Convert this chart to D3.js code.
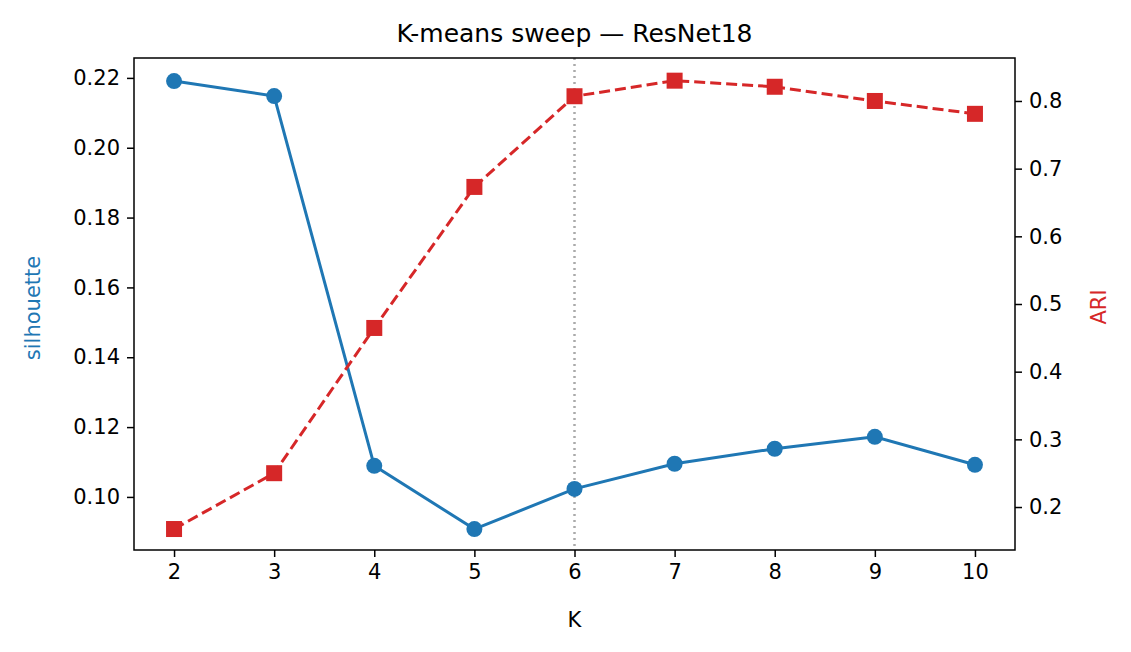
<!DOCTYPE html>
<html><head><meta charset="utf-8">
<script src="https://cdn.jsdelivr.net/npm/d3@7"></script>
<style>body{margin:0;background:#fff}text{font-family:"DejaVu Sans",sans-serif}</style>
</head><body>
<script>
var ks = [2, 3, 4, 5, 6, 7, 8, 9, 10];
var silhouette = [0.2191, 0.2148, 0.1089, 0.0908, 0.1023, 0.1095, 0.1138, 0.1172, 0.1092];
var ari = [0.1675, 0.250, 0.4646, 0.673, 0.807, 0.830, 0.821, 0.800, 0.781];
var silTicks = [0.10, 0.12, 0.14, 0.16, 0.18, 0.20, 0.22];
var ariTicks = [0.2, 0.3, 0.4, 0.5, 0.6, 0.7, 0.8];
var chosenK = 6;

var W = 1131, H = 652, L = 134, R = 1015, T = 58, B = 550;
var svg = d3.select("body").append("svg").attr("width", W).attr("height", H);

var x = d3.scaleLinear().domain([1.6, 10.4]).range([L, R]);
var yL = d3.scaleLinear().domain([0.0848, 0.2257]).range([B, T]);
var yR = d3.scaleLinear().domain([0.1365, 0.8635]).range([B, T]);

function styleAxis(g) {
    g.selectAll("text").attr("font-size", 21).attr("fill", "#000").style("font-family", "DejaVu Sans");
    g.selectAll("line").attr("stroke", "#000").attr("stroke-width", 1.5);
    g.select(".domain").remove();
}
svg.append("g").attr("transform", "translate(0," + B + ")")
    .call(d3.axisBottom(x).tickValues(ks).tickSize(7).tickPadding(7)).call(styleAxis);
svg.append("g").attr("transform", "translate(" + L + ",0)")
    .call(d3.axisLeft(yL).tickValues(silTicks).tickFormat(d3.format(".2f")).tickSize(7).tickPadding(7)).call(styleAxis);
svg.append("g").attr("transform", "translate(" + R + ",0)")
    .call(d3.axisRight(yR).tickValues(ariTicks).tickFormat(d3.format(".1f")).tickSize(7).tickPadding(7)).call(styleAxis);

svg.append("line").attr("x1", x(chosenK)).attr("x2", x(chosenK)).attr("y1", T).attr("y2", B)
    .attr("stroke", "#aaa").attr("stroke-width", 2.5).attr("stroke-dasharray", "2,4");

var blue = "#1f77b4", red = "#d62728";
svg.append("path").datum(ks.map(function(k, i) { return [k, silhouette[i]]; }))
    .attr("fill", "none").attr("stroke", blue).attr("stroke-width", 3)
    .attr("d", d3.line().x(function(d) { return x(d[0]); }).y(function(d) { return yL(d[1]); }));
svg.selectAll(".sil").data(ks).enter().append("circle")
    .attr("cx", function(k) { return x(k); }).attr("cy", function(k, i) { return yL(silhouette[i]); })
    .attr("r", 8).attr("fill", blue);

svg.append("path").datum(ks.map(function(k, i) { return [k, ari[i]]; }))
    .attr("fill", "none").attr("stroke", red).attr("stroke-width", 3).attr("stroke-dasharray", "11,5")
    .attr("d", d3.line().x(function(d) { return x(d[0]); }).y(function(d) { return yR(d[1]); }));
svg.selectAll(".ari").data(ks).enter().append("rect")
    .attr("x", function(k) { return x(k) - 8; }).attr("y", function(k, i) { return yR(ari[i]) - 8; })
    .attr("width", 16).attr("height", 16).attr("fill", red);

svg.append("rect").attr("x", L).attr("y", T).attr("width", R - L).attr("height", B - T)
    .attr("fill", "none").attr("stroke", "#000").attr("stroke-width", 1.5);

svg.append("text").attr("x", (L + R) / 2).attr("y", 42).attr("text-anchor", "middle")
    .attr("font-size", 25).text("K-means sweep — ResNet18");
svg.append("text").attr("x", (L + R) / 2).attr("y", 627).attr("text-anchor", "middle")
    .attr("font-size", 21).text("K");
svg.append("text").attr("transform", "translate(40,308) rotate(-90)")
    .attr("text-anchor", "middle").attr("font-size", 21).attr("fill", blue).text("silhouette");
svg.append("text").attr("transform", "translate(1106,307) rotate(-90)")
    .attr("text-anchor", "middle").attr("font-size", 21).attr("fill", red).text("ARI");
</script>
</body></html>
